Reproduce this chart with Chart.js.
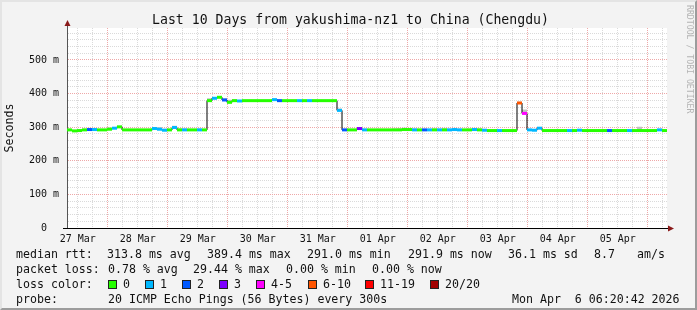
<!DOCTYPE html>
<html>
<head>
<meta charset="utf-8">
<script src="https://cdn.jsdelivr.net/npm/chart.js@4/dist/chart.umd.min.js"></script>
<style>
    body { margin: 0; background: #fff; }
    #wrap {
        position: relative; width: 697px; height: 310px; box-sizing: border-box;
        background: #f3f3f3;
        border-top: 2px solid #e4e4e4; border-left: 2px solid #e4e4e4;
        border-right: 2px solid #9c9c9c; border-bottom: 2px solid #9c9c9c;
        font-family: "DejaVu Sans Mono", monospace; color: #111;
    }
    #c { position: absolute; left: -2px; top: -2px; }
    .t { position: absolute; white-space: pre; font-size: 11.6px; line-height: 14px; }
    .box { position: absolute; width: 7px; height: 7px; border: 1px solid #222; }
    #title { position: absolute; left: 0; width: 697px; top: 10px; text-align: center; font-size: 13.2px; line-height: 16px; }
    #credit { position: absolute; left: 683px; top: 3px; writing-mode: vertical-rl; font-size: 8.2px; color: #b4b4b4; white-space: pre; }
</style>
</head>
<body>
<div id="wrap">
    <canvas id="c" width="697" height="310"></canvas>
    <div id="title">Last 10 Days from yakushima-nz1 to China (Chengdu)</div>
    <div id="credit">RRDTOOL / TOBI OETIKER</div>
    <div id="legend"></div>
</div>
<script>
// 10 days, one value every 2 hours (ms)
const dayLabels = ["27 Mar", "28 Mar", "29 Mar", "30 Mar", "31 Mar", "01 Apr", "02 Apr", "03 Apr", "04 Apr", "05 Apr"];
const yTickLabels = ["0  ", "100 m", "200 m", "300 m", "400 m", "500 m"];

const medianRtt = [
    292, 289, 290, 292, 293, 293, 292, 292, 294, 297, 301, 292, 292, 292, 292, 292, 292, 296, 294, 291,
    292, 299, 292, 292, 292, 292, 292, 292, 379, 386, 389, 381, 374, 379, 378, 379, 379, 379, 379, 379,
    379, 382, 379, 379, 379, 379, 379, 379, 379, 379, 379, 379, 379, 379, 350, 292, 292, 292, 296, 292,
    292, 292, 292, 292, 292, 292, 292, 293, 293, 292, 292, 292, 292, 292, 292, 292, 292, 293, 292, 292,
    292, 293, 292, 291, 290, 290, 290, 290, 290, 290, 372, 341, 292, 291, 297, 290, 290, 290, 290, 290,
    290, 290, 291, 290, 290, 290, 290, 290, 290, 290, 290, 290, 290, 290, 290, 290, 290, 290, 292, 290
];

// pings lost out of 20
const lossCount = [
    0, 0, 0, 0, 2, 1, 0, 0, 0, 1, 0, 0, 0, 0, 0, 0, 0, 1, 1, 1,
    0, 1, 0, 1, 0, 0, 1, 0, 0, 1, 0, 2, 0, 0, 1, 0, 0, 0, 0, 0,
    0, 1, 2, 0, 0, 0, 1, 0, 1, 0, 0, 0, 0, 0, 1, 2, 0, 0, 3, 1,
    0, 0, 0, 0, 0, 0, 0, 0, 0, 1, 0, 2, 1, 0, 1, 0, 1, 1, 1, 0,
    0, 1, 0, 1, 0, 0, 1, 0, 0, 0, 6, 4, 1, 1, 1, 0, 0, 0, 0, 0,
    1, 0, 1, 0, 0, 0, 0, 0, 2, 0, 0, 0, 1, 0, 0, 0, 0, 0, 1, 0
];

// upper edge of the smoke (ms)
const smokeTop = [
    292, 292, 294, 295, 296, 296, 294, 293, 299, 300, 304, 292, 292, 292, 292, 292, 292, 300, 300, 295,
    293, 304, 296, 296, 294, 292, 296, 292, 386, 390, 393, 386, 382, 383, 381, 380, 379, 379, 379, 379,
    379, 384, 382, 379, 380, 379, 381, 381, 381, 382, 379, 379, 379, 379, 356, 294, 292, 293, 300, 295,
    292, 293, 292, 293, 294, 296, 297, 298, 297, 296, 294, 294, 294, 296, 295, 297, 295, 297, 295, 294,
    295, 297, 296, 294, 293, 293, 293, 292, 291, 291, 376, 353, 294, 293, 300, 292, 290, 290, 290, 290,
    292, 290, 293, 290, 290, 290, 290, 290, 292, 290, 290, 290, 292, 290, 301, 290, 290, 290, 293, 290
];

const lossLabels = ["0", "1", "2", "3", "4-5", "6-10", "11-19", "20/20"];
const lossColors = ["#26ff00", "#00b8ff", "#0059ff", "#7e00ff", "#ff00ff", "#ff5500", "#ff0000", "#a10000"];

const firstMidnight = 16.3; // hours after graph start

function lossClass(n) {
    if (n <= 3) return n;
    if (n <= 5) return 4;
    if (n <= 10) return 5;
    if (n <= 19) return 6;
    return 7;
}

function points(values) {
    return values.map((v, i) => ({ x: 2 * i + 1, y: v }));
}

const frame = {
    id: 'frame',
    beforeDraw(chart) {
        const a = chart.chartArea, ctx = chart.ctx;
        ctx.save();
        ctx.fillStyle = '#ffffff';
        ctx.fillRect(a.left, a.top, a.right - a.left, a.bottom - a.top);
        ctx.restore();
    },
    afterDraw(chart) {
        const a = chart.chartArea, ctx = chart.ctx;
        const x0 = Math.round(a.left) + 0.5, y0 = Math.round(a.bottom) + 0.5;
        ctx.save();
        ctx.lineWidth = 1;
        ctx.strokeStyle = '#555';
        ctx.beginPath(); ctx.moveTo(x0, a.top); ctx.lineTo(x0, a.top - 4); ctx.stroke();
        ctx.strokeStyle = '#000';
        ctx.beginPath(); ctx.moveTo(a.left - 4, y0); ctx.lineTo(a.right + 3, y0); ctx.stroke();
        ctx.fillStyle = '#8a1a1a';
        ctx.beginPath();
        ctx.moveTo(x0, a.top - 8); ctx.lineTo(x0 - 3, a.top - 2); ctx.lineTo(x0 + 3, a.top - 2);
        ctx.closePath(); ctx.fill();
        ctx.beginPath();
        ctx.moveTo(a.right + 7, y0); ctx.lineTo(a.right + 1, y0 - 3); ctx.lineTo(a.right + 1, y0 + 3);
        ctx.closePath(); ctx.fill();
        ctx.restore();
    }
};

new Chart(document.getElementById('c'), {
    type: 'line',
    data: {
        datasets: [
            {
                // loss coloured median
                data: points(medianRtt),
                showLine: false,
                pointStyle: 'line',
                pointRadius: 2.5,
                pointBorderWidth: 3,
                pointBorderColor: lossCount.map(n => lossColors[lossClass(n)]),
            },
            {
                data: points(medianRtt),
                stepped: 'middle',
                borderColor: '#000',
                borderWidth: 1,
                pointRadius: 0,
            },
            {
                data: points(smokeTop),
                stepped: 'middle',
                borderWidth: 0,
                borderColor: 'rgba(0,0,0,0)',
                backgroundColor: '#c2c2c2',
                pointRadius: 0,
                fill: 1,
            },
        ]
    },
    options: {
        responsive: false,
        animation: false,
        events: [],
        layout: { padding: { left: 0, right: 30, top: 28, bottom: 0 } },
        plugins: { legend: { display: false }, tooltip: { enabled: false } },
        scales: {
            x: {
                type: 'linear',
                min: 0,
                max: 240,
                afterFit: s => { s.height = 82; },
                afterBuildTicks: s => {
                    const t = [];
                    for (let i = 0; firstMidnight - 12 + 6 * i <= 240; i++) t.push({ value: firstMidnight - 12 + 6 * i });
                    s.ticks = t;
                },
                grid: {
                    drawTicks: false,
                    lineWidth: 1,
                    color: ctx => {
                        const d = (ctx.tick.value - firstMidnight) / 24;
                        return Math.abs(d - Math.round(d)) < 1e-6 ? '#eea8a8' : '#dadada';
                    },
                },
                border: { display: true, color: '#000', width: 1, dash: [1, 1] },
                ticks: {
                    autoSkip: false,
                    maxRotation: 0,
                    padding: 5,
                    color: '#111',
                    font: { family: 'DejaVu Sans Mono', size: 10 },
                    callback: value => {
                        const d = (value - firstMidnight + 12) / 24;
                        const r = Math.round(d);
                        return Math.abs(d - r) < 1e-6 ? (dayLabels[r] || '') : '';
                    }
                }
            },
            y: {
                min: 0,
                max: 595.2,
                afterFit: s => { s.width = 67; },
                afterBuildTicks: s => {
                    const t = [];
                    for (let i = 0; i < 30; i++) t.push({ value: 20 * i });
                    s.ticks = t;
                },
                grid: {
                    drawTicks: false,
                    lineWidth: 1,
                    color: ctx => (Math.round(ctx.tick.value) % 100 === 0 ? '#eea8a8' : '#dadada'),
                },
                border: { display: true, color: '#555', width: 1, dash: [1, 1] },
                ticks: {
                    autoSkip: false,
                    padding: 8,
                    color: '#111',
                    font: { family: 'DejaVu Sans Mono', size: 10 },
                    callback: value => {
                        const v = Math.round(value);
                        return v % 100 === 0 ? yTickLabels[v / 100] : '';
                    }
                },
                title: {
                    display: true,
                    text: 'Seconds',
                    color: '#111',
                    padding: { top: 3, bottom: 0 },
                    font: { family: 'DejaVu Sans Mono', size: 11.6 },
                }
            }
        }
    },
    plugins: [frame]
});

// text legend under the graph
(function () {
    const legend = document.getElementById('legend');
    function text(str, x, y) {
        const d = document.createElement('div');
        d.className = 't';
        d.style.left = (x - 2) + 'px';
        d.style.top = (y - 2) + 'px';
        d.textContent = str;
        legend.appendChild(d);
    }
    text('median rtt:', 16, 247);
    text('313.8 ms avg', 107, 247);
    text('389.4 ms max', 207, 247);
    text('291.0 ms min', 307, 247);
    text('291.9 ms now', 408, 247);
    text('36.1 ms sd', 508, 247);
    text('8.7', 594, 247);
    text('am/s', 637, 247);

    text('packet loss:', 16, 262);
    text('0.78 % avg', 108, 262);
    text('29.44 % max', 193, 262);
    text('0.00 % min', 286, 262);
    text('0.00 % now', 372, 262);

    text('loss color:', 16, 277);
    const boxX = [108, 145, 182, 219, 256, 308, 365, 430];
    lossLabels.forEach((lab, i) => {
        const b = document.createElement('div');
        b.className = 'box';
        b.style.left = (boxX[i] - 2) + 'px';
        b.style.top = (280 - 2) + 'px';
        b.style.background = lossColors[i];
        legend.appendChild(b);
        text(lab, boxX[i] + 15, 277);
    });

    text('probe:', 16, 292);
    text('20 ICMP Echo Pings (56 Bytes) every 300s', 108, 292);
    text('Mon Apr  6 06:20:42 2026', 512, 292);
})();
</script>
</body>
</html>
